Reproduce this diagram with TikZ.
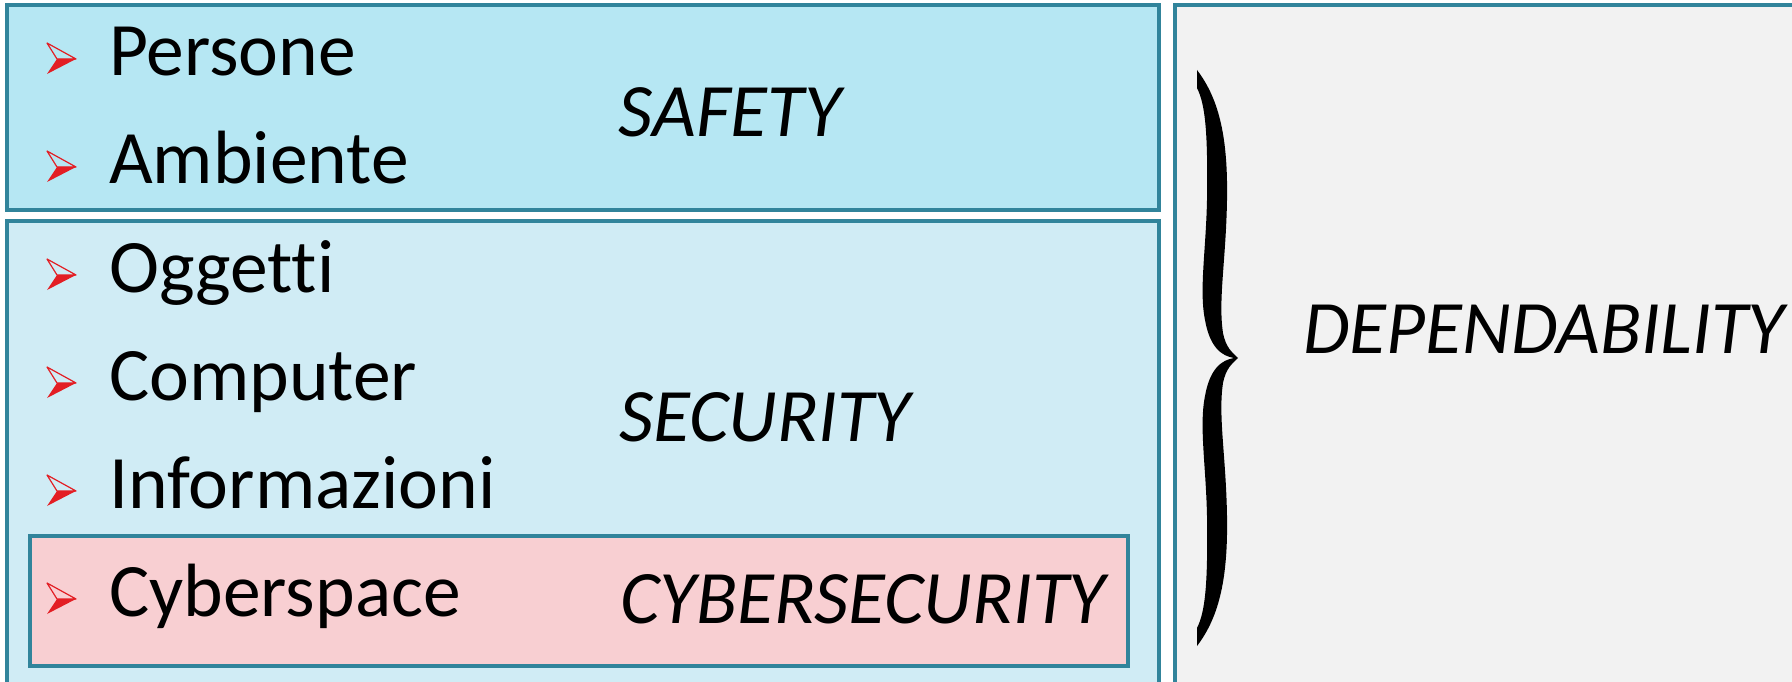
\documentclass[tikz,border=0pt]{standalone}
\usepackage{fontspec}
\setmainfont{Carlito}[Ligatures=NoCommon]
\usepackage{tikz}
\definecolor{boxline}{HTML}{31849B}
\definecolor{safetyfill}{HTML}{B6E7F3}
\definecolor{securityfill}{HTML}{D0ECF5}
\definecolor{cyberfill}{HTML}{F8CFD2}
\definecolor{dependfill}{HTML}{F2F2F2}
\definecolor{tipred}{HTML}{E31E24}
\tikzset{
  area/.style={draw=boxline,line width=3.5pt},
  item/.style={anchor=base west,inner sep=0pt,font=\fontsize{75.5}{90}\selectfont},
  tag/.style={anchor=base,inner sep=0pt,font=\fontsize{75.5}{90}\selectfont\itshape},
  redtip/.pic={
    \draw[tipred,line width=1.2pt,line join=round] (-62,-33)--(-33,-17)--(-52,-17)--cycle;
    \fill[tipred] (-52,-17)--(-33,-17)--(-62,-2)--cycle;
  }
}
\begin{document}
\begin{tikzpicture}[x=1pt,y=-1pt]
\path[use as bounding box,clip](0,0)rectangle(1792,682);
% boxes
\draw[area,fill=safetyfill](7,5)rectangle(1159,210);
\draw[area,fill=securityfill](7,221)rectangle(1159,700);
\draw[area,fill=cyberfill](30,536)rectangle(1128,666);
\draw[area,fill=dependfill](1175,5)rectangle(1810,700);
% items
\node[item](persone)at(109,76){Persone};
\node[item](ambiente)at(109,184){Ambiente};
\node[item](oggetti)at(109,292){Oggetti};
\node[item](computer)at(109,400){Computer};
\node[item](informazioni)at(109,508){Informazioni};
\node[item](cyberspace)at(109,616){Cyberspace};
\pic at(persone.base west){redtip};
\pic at(ambiente.base west){redtip};
\pic at(oggetti.base west){redtip};
\pic at(computer.base west){redtip};
\pic at(informazioni.base west){redtip};
\pic at(cyberspace.base west){redtip};
% tags
\node[tag](safety)at(730,137){SAFETY};
\node[tag](security)at(765,441){SECURITY};
\node[tag](cybersecurity)at(863,623){CYBERSECURITY};
\node[tag](dependability)at(1544,353){DEPENDABILITY};
% brace
\fill[black](1197,70)..controls(1220,100)and(1228,140)..(1227,200)
..controls(1226,260)and(1218,300)..(1223,333)
..controls(1226,348)and(1232,352)..(1238,358)
..controls(1232,364)and(1226,368)..(1223,383)
..controls(1218,416)and(1226,456)..(1227,516)
..controls(1228,576)and(1220,616)..(1197,646)
--(1197,628)..controls(1205,612)and(1208,586)..(1207,516)
..controls(1206,466)and(1199,426)..(1205,396)
..controls(1210,368)and(1222,360)..(1234,358)
..controls(1222,356)and(1210,348)..(1205,320)
..controls(1199,290)and(1206,250)..(1207,200)
..controls(1208,130)and(1205,104)..(1197,88)--cycle;
\end{tikzpicture}
\end{document}
